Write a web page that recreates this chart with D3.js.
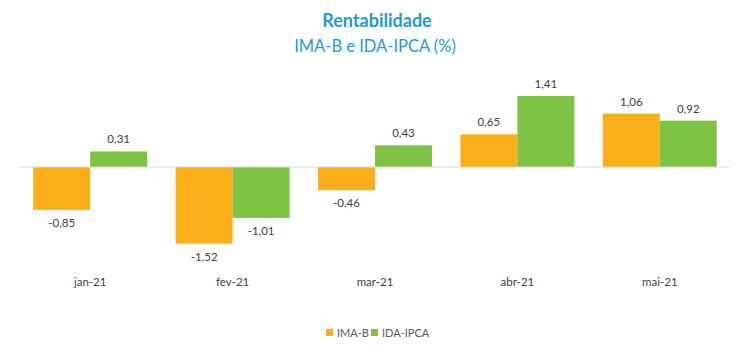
<!DOCTYPE html>
<html><head><meta charset="utf-8">
<script src="https://cdn.jsdelivr.net/npm/d3@7"></script>
<style>body{margin:0;background:#fff}svg{display:block}</style>
</head><body><svg id="c" width="750" height="355"></svg>
<script>
const categories = ["jan-21","fev-21","mar-21","abr-21","mai-21"];
const seriesNames = ["IMA-B","IDA-IPCA"];
const imab = [-0.85,-1.52,-0.46,0.65,1.06];
const idaipca = [0.31,-1.01,0.43,1.41,0.92];
const colors = ["#FBAE17","#7DC242"];
const values = [imab, idaipca];

const svg = d3.select("#c");
const font = "Lato, 'Open Sans', sans-serif";
const x0 = d3.scaleBand().domain(categories).range([19,731]).paddingInner(0).paddingOuter(0);
const x1 = d3.scaleBand().domain(seriesNames).range([0,x0.bandwidth()]).paddingInner(0).paddingOuter(0.25);
const y = d3.scaleLinear().domain([-1.52,1.41]).range([243.6,96]);

svg.append("text").attr("x",377).attr("y",27).attr("text-anchor","middle")
  .attr("font-family",font).attr("font-weight","bold").attr("font-size",18).attr("fill","#1B9BD7").text("Rentabilidade");
svg.append("text").attr("x",375).attr("y",52).attr("text-anchor","middle")
  .attr("font-family",font).attr("font-size",16.5).attr("fill","#1B9BD7").text("IMA-B e IDA-IPCA (%)");

const fmt = v => v.toFixed(2).replace(".",",");

seriesNames.forEach((s,si)=>{
  const g = svg.append("g");
  g.selectAll("rect").data(categories).join("rect")
    .attr("x",c=>x0(c)+x1(s))
    .attr("width",x1.bandwidth())
    .attr("y",(c,i)=>y(Math.max(0,values[si][i])))
    .attr("height",(c,i)=>Math.abs(y(values[si][i])-y(0)))
    .attr("fill",colors[si]);
  g.selectAll("text").data(categories).join("text")
    .attr("x",c=>x0(c)+x1(s)+x1.bandwidth()/2)
    .attr("y",(c,i)=>values[si][i]>=0 ? y(values[si][i])-8 : y(values[si][i])+17)
    .attr("text-anchor","middle").attr("font-family",font).attr("font-size",11.5).attr("fill","#404040")
    .text((c,i)=>fmt(values[si][i]));
});

svg.append("line").attr("x1",19).attr("x2",731).attr("y1",y(0)).attr("y2",y(0))
  .attr("stroke","#D9D9D9").attr("stroke-width",1);

const xAxis = svg.append("g").attr("transform","translate(0,278)")
  .call(d3.axisBottom(x0).tickSize(0).tickPadding(0));
xAxis.select(".domain").remove();
xAxis.selectAll("text").attr("font-family",font).attr("font-size",11.5).attr("fill","#404040").attr("dy","0.71em");

const leg = svg.append("g");
const legX = [326,371];
seriesNames.forEach((s,i)=>{
  leg.append("rect").attr("x",legX[i]).attr("y",329).attr("width",7).attr("height",7).attr("fill",colors[i]);
  leg.append("text").attr("x",legX[i]+11).attr("y",337).attr("font-family",font).attr("font-size",11)
    .attr("fill","#595959").text(s);
});
</script></body></html>
